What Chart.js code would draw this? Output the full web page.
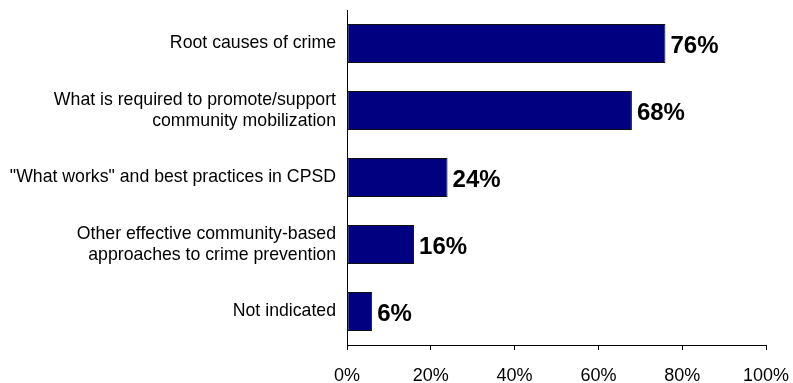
<!DOCTYPE html>
<html>
<head>
<meta charset="utf-8">
<script src="https://cdn.jsdelivr.net/npm/chart.js@4"></script>
<style>
html,body{margin:0;padding:0;background:#fff;}
#wrap{width:793px;height:383px;position:relative;}
</style>
</head>
<body>
<div id="wrap"><canvas id="c" width="793" height="383"></canvas></div>
<script>
const categories = [
  "Root causes of crime",
  ["What is required to promote/support", "community mobilization"],
  "\"What works\" and best practices in CPSD",
  ["Other effective community-based", "approaches to crime prevention"],
  "Not indicated"
];
const values = [76, 68, 24, 16, 6];
const tickValues = [0, 20, 40, 60, 80, 100];

const FONT = "'Liberation Sans', Arial, sans-serif";

const valueLabels = {
  id: 'valueLabels',
  afterDatasetsDraw(chart) {
    const ctx = chart.ctx;
    const meta = chart.getDatasetMeta(0);
    ctx.save();
    ctx.font = "bold 24px " + FONT;
    ctx.fillStyle = '#000';
    ctx.textAlign = 'left';
    ctx.textBaseline = 'middle';
    meta.data.forEach((bar, i) => {
      ctx.fillText(values[i] + '%', bar.x + 5, bar.y + 3);
    });
    ctx.restore();
  }
};

new Chart(document.getElementById('c'), {
  type: 'bar',
  data: {
    labels: categories,
    datasets: [{
      data: values,
      backgroundColor: '#000080',
      borderColor: '#111111',
      borderWidth: 1,
      borderSkipped: false,
      barPercentage: 0.58,
      categoryPercentage: 1
    }]
  },
  options: {
    indexAxis: 'y',
    responsive: false,
    animation: false,
    layout: { padding: { top: 10, right: 27, bottom: 0, left: 0 } },
    plugins: { legend: { display: false }, tooltip: { enabled: false } },
    scales: {
      x: {
        min: 0, max: 100,
        afterBuildTicks(scale) { scale.ticks = tickValues.map(v => ({ value: v })); },
        afterFit(scale) { scale.height = 38; scale.paddingLeft = 0; scale.paddingRight = 0; },
        ticks: {
          callback: v => v + '%',
          color: '#000',
          font: { family: FONT, size: 18 },
          padding: 15,
          maxRotation: 0
        },
        grid: { drawOnChartArea: false, drawTicks: true, tickLength: 5, color: '#000', tickColor: '#000' },
        border: { display: true, color: '#000', width: 1 }
      },
      y: {
        afterFit(scale) { scale.width = 347; scale.paddingTop = 0; scale.paddingBottom = 0; },
        ticks: {
          color: '#000',
          font: { family: FONT, size: 17.7, lineHeight: 1.15 },
          padding: 11,
          crossAlign: 'near'
        },
        grid: { display: false, drawTicks: false },
        border: { display: true, color: '#000', width: 1 }
      }
    }
  },
  plugins: [valueLabels]
});
</script>
</body>
</html>
